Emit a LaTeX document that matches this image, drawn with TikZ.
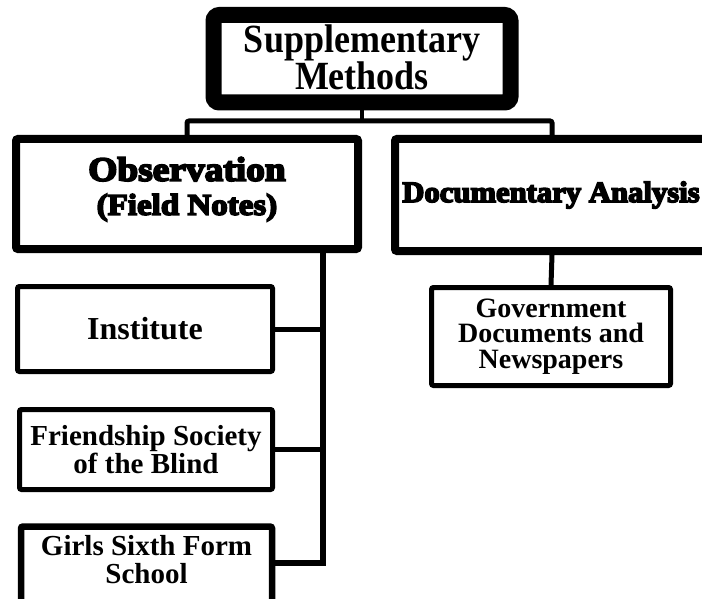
\documentclass[tikz,border=0pt]{standalone}
\usepackage{fontspec}
\setmainfont{Liberation Serif}
\newfontfamily\topfont[UprightFont={* Bold},FakeStretch=0.9]{Liberation Serif}
\newfontfamily\heavyfont[UprightFont={* Bold},FakeBold=5.5,FakeStretch=1.1]{Liberation Serif}
\newfontfamily\docfont[UprightFont={* Bold},FakeBold=5.5,FakeStretch=1.04]{Liberation Serif}
\newfontfamily\boxfont[UprightFont={* Bold}]{Liberation Serif}
\begin{document}
\begin{tikzpicture}[x=1pt,y=-1pt,
  box/.style={draw, rectangle, line width=5pt, rounded corners=2pt, fill=white, align=center, inner sep=0pt},
  conn/.style={draw, line width=5pt}]
\useasboundingbox (0,0) rectangle (702,599);
\fill[white] (0,0) rectangle (702,599);
\clip (0,0) rectangle (702,599);

\node[box, line width=16pt, rounded corners=6pt, minimum width=297pt, minimum height=87.5pt, text depth=3pt,
      font=\topfont\fontsize{40}{36}\selectfont] (top) at (362,58.75) {Supplementary\\Methods};

\node[box, line width=8pt, minimum width=342pt, minimum height=110pt, text depth=16pt,
      font=\heavyfont\fontsize{34}{34}\selectfont] (obs) at (187,194)
      {Observation\\{\fontsize{30}{34}\selectfont (Field Notes)}};

\node[box, line width=8pt, minimum width=314pt, minimum height=112pt,
      font=\docfont\fontsize{29.5}{30}\selectfont] (doc) at (552,195)
      {\makebox[0pt]{\hspace*{-2pt}Documentary Analysis}};

\node[box, minimum width=255pt, minimum height=85pt,
      font=\boxfont\fontsize{32}{30}\selectfont] (inst) at (145,329) {Institute};

\node[box, minimum width=253pt, minimum height=80pt,
      font=\boxfont\fontsize{29}{28}\selectfont] (friend) at (146,449.5) {Friendship Society\\of the Blind};

\node[box, line width=6.5pt, minimum width=251pt, minimum height=93pt, text depth=28pt,
      font=\boxfont\fontsize{29}{28}\selectfont] (girls) at (146.5,573) {Girls Sixth Form\\School};

\node[box, minimum width=239pt, minimum height=98pt,
      font=\boxfont\fontsize{28}{25.5}\selectfont] (gov) at (551,336.5) {Government\\Documents and\\Newspapers};

\coordinate (bus) at (362,121);
\coordinate (spine) at (323,563);
\draw[conn, line width=4pt] (top.south) -- (bus);
\draw[conn, rounded corners=2pt] (obs.north) |- (bus) -| (doc.north);
\draw[conn, line width=6pt] (obs.south -| spine) -- (spine) -- (girls.east |- spine);
\draw[conn] (inst.east) -- (inst.east -| spine);
\draw[conn] (friend.east) -- (friend.east -| spine);
\draw[conn] (doc.south) -- (gov.north);
\end{tikzpicture}
\end{document}
